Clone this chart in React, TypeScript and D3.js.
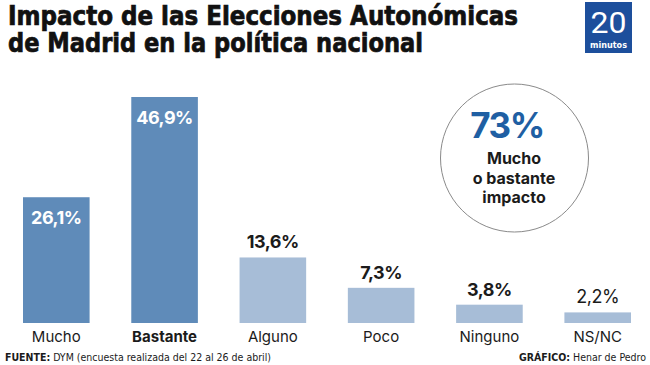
import * as d3 from 'd3';

const categories = ['Mucho', 'Bastante', 'Alguno', 'Poco', 'Ninguno', 'NS/NC'];
const values = [26.1, 46.9, 13.6, 7.3, 3.8, 2.2];
const labels = ['26,1%', '46,9%', '13,6%', '7,3%', '3,8%', '2,2%'];
// the first two bars are the "mucho o bastante" group
const highlighted = [true, true, false, false, false, false];
const boldValue = [true, true, true, true, true, false];

const titleLines = ['Impacto de las Elecciones Autonómicas', 'de Madrid en la política nacional'];
const calloutValue = '73%';
const calloutLines = ['Mucho', 'o bastante', 'impacto'];

const width = 650;
const height = 365;
const baseY = 323;
const dark = '#5f8bb9';
const light = '#a7bdd7';
const ink = '#1b1b1b';
const chartFont = 'Inter, Roboto, sans-serif';
const condFont = '"DejaVu Sans Condensed", "Liberation Sans Narrow", sans-serif';
const narrowFont = '"Liberation Sans Narrow", "DejaVu Sans Condensed", sans-serif';

export default function App() {
  const x = d3.scaleBand<string>()
    .domain(categories)
    .range([23, 631])
    .paddingInner(0.385)
    .paddingOuter(0);

  const y = d3.scaleLinear()
    .domain([0, d3.max(values) as number])
    .range([baseY, 97]);

  const data = categories.map((c, i) => ({ name: c, value: values[i], label: labels[i], hi: highlighted[i], bold: boldValue[i] }));

  return (
    <svg width={width} height={height} style={{ position: 'absolute', left: 0, top: 0, background: '#fff' }}>
      {/* title */}
      <g fontFamily={condFont} fontWeight="bold" fontSize={27} fill="#111" stroke="#111" strokeWidth={0.7}>
        <text x={8} y={25} textLength={510} lengthAdjust="spacingAndGlyphs">{titleLines[0]}</text>
        <text x={8} y={52} textLength={415} lengthAdjust="spacingAndGlyphs">{titleLines[1]}</text>
      </g>

      {/* logo */}
      <rect x={585} y={2} width={47} height={51} fill="#1d4f9c" />
      <text x={608.5} y={33} textAnchor="middle" fontFamily="Roboto, sans-serif" fontSize={29} fill="#fff"
        textLength={36} lengthAdjust="spacingAndGlyphs">20</text>
      <text x={608.5} y={48} textAnchor="middle" fontFamily={condFont} fontWeight="bold" fontSize={9} fill="#fff">minutos</text>

      {/* bars */}
      {data.map(d => (
        <rect key={d.name} x={x(d.name)} y={y(d.value)} width={x.bandwidth()} height={baseY - y(d.value)}
          fill={d.hi ? dark : light} />
      ))}

      {/* value labels */}
      {data.map(d => (
        <text key={'v' + d.name}
          x={(x(d.name) as number) + x.bandwidth() / 2}
          y={d.hi ? y(d.value) + 27 : y(d.value) - 9}
          textAnchor="middle" fontFamily={chartFont} fontSize={18}
          fontWeight={d.bold ? 700 : 400}
          fill={d.hi ? '#fff' : ink}
          letterSpacing={-0.5}>{d.label}</text>
      ))}

      {/* category labels */}
      {data.map(d => (
        <text key={'c' + d.name}
          x={(x(d.name) as number) + x.bandwidth() / 2}
          y={342} textAnchor="middle" fontFamily={chartFont} fontSize={15}
          fontWeight={d.name === 'Bastante' ? 700 : 400} fill={ink}>{d.name}</text>
      ))}

      {/* callout */}
      <circle cx={514.5} cy={158} r={74} fill="#fff" stroke="#8a8a8a" strokeWidth={1} />
      <text x={507} y={138} textAnchor="middle" fontFamily={chartFont} fontWeight={700} fontSize={35}
        fill="#1f5fa3" letterSpacing={-1.5}>{calloutValue}</text>
      {calloutLines.map((l, i) => (
        <text key={l} x={514} y={164 + i * 19.5} textAnchor="middle" fontFamily={chartFont} fontWeight={700}
          fontSize={16} fill={ink}>{l}</text>
      ))}

      {/* footer */}
      <text x={5} y={361} fontFamily={narrowFont} fontSize={10.5} fill={ink}>
        <tspan fontWeight="bold">FUENTE:</tspan> DYM (encuesta realizada del 22 al 26 de abril)
      </text>
      <text x={646} y={361} textAnchor="end" fontFamily={narrowFont} fontSize={10.5} fill={ink}>
        <tspan fontWeight="bold">GRÁFICO:</tspan> Henar de Pedro
      </text>
    </svg>
  );
}
